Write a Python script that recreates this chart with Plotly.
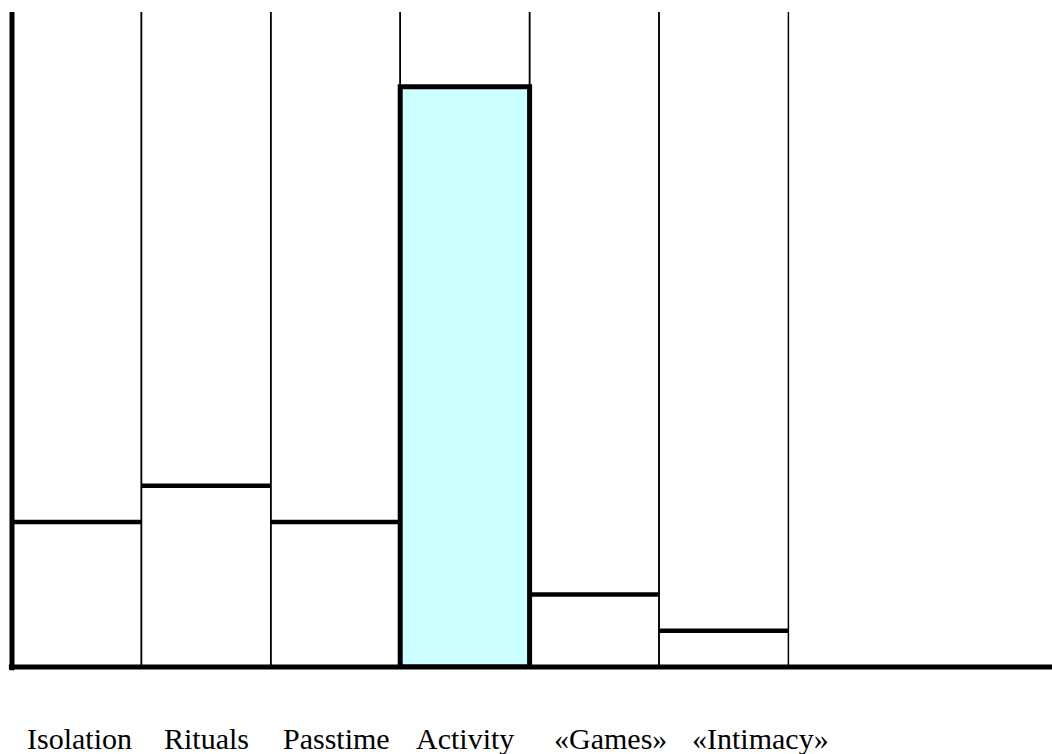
import plotly.graph_objects as go

# ---- data ----
categories = ["Isolation", "Rituals", "Passtime", "Activity", "«Games»", "«Intimacy»"]
values = [20, 25, 20, 80, 10, 5]
highlight = "Activity"

# ---- style ----
YMAX = 90.3
label_shift = [3, 0, 1, 0, 16, 37]
FONT = "Liberation Serif"

idx = list(range(len(categories)))

fig = go.Figure()

# full-height column frames (thin vertical separators)
fig.add_trace(go.Bar(
    x=idx, y=[YMAX * 1.1] * len(idx), width=1,
    marker=dict(color="rgba(0,0,0,0)", line=dict(color="black", width=1.5)),
    hoverinfo="skip", showlegend=False,
))

# value levels as thick horizontal strokes
lx, ly = [], []
for i, (c, v) in enumerate(zip(categories, values)):
    if c == highlight:
        continue
    lx += [i - 0.5, i + 0.5, None]
    ly += [v, v, None]
fig.add_trace(go.Scatter(
    x=lx, y=ly, mode="lines",
    line=dict(color="black", width=4.5),
    hoverinfo="skip", showlegend=False,
))

# highlighted bar
hi = categories.index(highlight)
fig.add_trace(go.Bar(
    x=[hi], y=[values[hi]], width=1,
    marker=dict(color="#CCFFFF", line=dict(color="black", width=5)),
    hoverinfo="skip", showlegend=False,
))

# category labels
for i, c in enumerate(categories):
    fig.add_annotation(
        x=i, y=0, xref="x", yref="paper", yanchor="top",
        text=c, showarrow=False, xshift=label_shift[i], yshift=-53,
        font=dict(family=FONT, size=30, color="black"),
    )

# axis lines
fig.add_shape(type="line", xref="paper", yref="paper", x0=0, x1=0, y0=-0.005, y1=1,
              line=dict(color="black", width=5))
fig.add_shape(type="line", xref="paper", yref="paper", x0=-0.003, x1=1.0, y0=0, y1=0,
              line=dict(color="black", width=5))

fig.update_layout(
    width=1052, height=754,
    margin=dict(l=12, r=0, t=12, b=87),
    paper_bgcolor="white", plot_bgcolor="white",
    barmode="overlay",
    xaxis=dict(range=[-0.5, -0.5 + 1040 / 129.4], showgrid=False, zeroline=False,
               showticklabels=False, ticks="", showline=False),
    yaxis=dict(range=[0, YMAX], showgrid=False, zeroline=False,
               showticklabels=False, ticks="", showline=False),
)

fig.write_html(
    "out.html",
    config={"displayModeBar": False},
    post_script="document.body.style.margin='0';document.body.style.overflow='hidden';",
)
